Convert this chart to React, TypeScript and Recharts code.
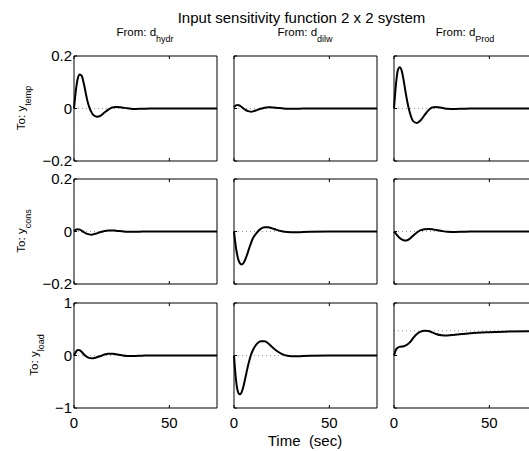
import { LineChart, Line, XAxis, YAxis, ReferenceLine } from 'recharts';

// sample times (sec)
const time = [0, 1, 2, 3, 4, 5, 6, 7, 8, 9, 10, 12, 14, 16, 18, 20, 22, 25, 28, 32, 36, 40, 50, 60, 75];

// responses, one array per input -> output pair
const hydrTemp = [0, 0.07, 0.115, 0.13, 0.125, 0.1, 0.065, 0.03, 0.005, -0.012, -0.024, -0.031, -0.027, -0.015, -0.004, 0.004, 0.006, 0.004, 0.001, -0.002, -0.001, 0, 0, 0, 0];
const dilwTemp = [0.005, 0.012, 0.013, 0.011, 0.006, 0, -0.005, -0.009, -0.011, -0.012, -0.011, -0.006, -0.001, 0.003, 0.005, 0.004, 0.003, 0.001, -0.001, -0.001, 0, 0, 0, 0, 0];
const prodTemp = [0, 0.09, 0.145, 0.157, 0.145, 0.11, 0.065, 0.025, -0.008, -0.032, -0.048, -0.055, -0.045, -0.025, -0.007, 0.004, 0.006, 0.003, -0.001, -0.002, -0.001, 0, 0, 0, 0];
const hydrCons = [0, 0.007, 0.009, 0.007, 0.003, -0.002, -0.006, -0.009, -0.011, -0.012, -0.011, -0.007, -0.002, 0.002, 0.004, 0.004, 0.003, 0.001, -0.001, -0.001, 0, 0, 0, 0, 0];
const dilwCons = [0, -0.06, -0.1, -0.12, -0.126, -0.12, -0.105, -0.085, -0.063, -0.042, -0.025, -0.004, 0.01, 0.016, 0.016, 0.012, 0.007, 0.001, -0.002, -0.003, -0.002, -0.001, 0, 0, 0];
const prodCons = [0, -0.008, -0.017, -0.025, -0.03, -0.033, -0.034, -0.033, -0.029, -0.023, -0.016, -0.004, 0.005, 0.009, 0.01, 0.009, 0.006, 0.002, -0.001, -0.002, -0.001, 0, 0, 0, 0];
const hydrLoad = [0, 0.07, 0.105, 0.1, 0.07, 0.03, -0.005, -0.03, -0.045, -0.05, -0.05, -0.035, -0.01, 0.02, 0.035, 0.035, 0.025, 0.005, -0.008, -0.008, -0.003, 0, 0, 0, 0];
const dilwLoad = [0, -0.45, -0.68, -0.74, -0.7, -0.58, -0.42, -0.25, -0.1, 0.02, 0.11, 0.22, 0.27, 0.27, 0.23, 0.16, 0.1, 0.03, -0.005, -0.015, -0.01, -0.005, 0, 0, 0];
const prodLoad = [0, 0.11, 0.15, 0.165, 0.17, 0.175, 0.19, 0.21, 0.24, 0.28, 0.33, 0.41, 0.455, 0.47, 0.465, 0.44, 0.41, 0.385, 0.38, 0.395, 0.41, 0.425, 0.445, 0.455, 0.465];

const inputNames = ['hydr', 'dilw', 'Prod'];
const outputNames = ['temp', 'cons', 'load'];
const responses = [
  [hydrTemp, dilwTemp, prodTemp],
  [hydrCons, dilwCons, prodCons],
  [hydrLoad, dilwLoad, prodLoad],
];
const steadyState = [
  [0, 0, 0],
  [0, 0, 0],
  [0, 0, 0.47],
];

const xTicks = [0, 50];
const smallYTicks = [-0.2, 0, 0.2];
const loadYTicks = [-1, 0, 1];
const yTicksByRow = [smallYTicks, smallYTicks, loadYTicks];

const FONT = '"Liberation Sans", Arial, Helvetica, sans-serif';
// half-pixel offsets keep the 1px frame lines crisp
const colLeft = [73.5, 233.5, 393.5];
const rowTop = [55.5, 178.5, 302.5];
const PW = 143;
const PH = 105;
const LEFT_W = 50;
const TOP_H = 12;
const RIGHT_W = 5;
const BOTTOM_H = 30;

const fmt = (v: number) => (v < 0 ? '\u2212' + Math.abs(v) : String(v));
const blank = () => '';
const line = { stroke: '#000', strokeWidth: 1 };
const tickStyle = { fontSize: 15, fill: '#000', fontFamily: FONT };

function Panel({ row, col }: { row: number; col: number }) {
  const values = responses[row][col];
  const data = time.map((t, i) => ({ t, v: values[i] }));
  const ticks = yTicksByRow[row];
  const domain = [ticks[0], ticks[ticks.length - 1]];
  return (
    <div style={{ position: 'absolute', left: colLeft[col] - LEFT_W, top: rowTop[row] - TOP_H }}>
      <LineChart
        width={LEFT_W + PW + RIGHT_W}
        height={TOP_H + PH + BOTTOM_H}
        data={data}
        margin={{ top: 0, right: 0, bottom: 0, left: 0 }}
      >
        <XAxis
          xAxisId="b"
          dataKey="t"
          type="number"
          domain={[0, 75]}
          ticks={xTicks}
          interval={0}
          height={BOTTOM_H}
          tickSize={-3}
          tickMargin={12}
          axisLine={line}
          tickLine={line}
          tick={tickStyle}
          tickFormatter={row === 2 ? fmt : blank}
        />
        <XAxis
          xAxisId="t"
          orientation="top"
          dataKey="t"
          type="number"
          domain={[0, 75]}
          ticks={xTicks}
          interval={0}
          height={TOP_H}
          tickSize={-3}
          axisLine={line}
          tickLine={line}
          tick={tickStyle}
          tickFormatter={blank}
        />
        <YAxis
          yAxisId="l"
          type="number"
          domain={domain}
          ticks={ticks}
          interval={0}
          width={LEFT_W}
          tickSize={-3}
          tickMargin={5}
          axisLine={line}
          tickLine={line}
          tick={tickStyle}
          tickFormatter={col === 0 ? fmt : blank}
        />
        <YAxis
          yAxisId="r"
          orientation="right"
          type="number"
          domain={domain}
          ticks={ticks}
          interval={0}
          width={RIGHT_W}
          tickSize={-3}
          axisLine={line}
          tickLine={line}
          tick={tickStyle}
          tickFormatter={blank}
        />
        <ReferenceLine
          xAxisId="b"
          yAxisId="l"
          y={steadyState[row][col]}
          stroke="#999"
          strokeDasharray="1 3"
        />
        <Line
          xAxisId="b"
          yAxisId="l"
          dataKey="v"
          type="monotone"
          stroke="#000"
          strokeWidth={2}
          dot={false}
          isAnimationActive={false}
        />
      </LineChart>
    </div>
  );
}

const sub = { fontSize: 9, position: 'relative' as const, top: 6 };

export default function App() {
  return (
    <div
      style={{
        position: 'absolute',
        left: 0,
        top: 0,
        width: 529,
        height: 451,
        overflow: 'hidden',
        background: '#fff',
        fontFamily: FONT,
        color: '#000',
      }}
    >
      <div style={{ position: 'absolute', left: 0, width: 603, top: 10, fontSize: 15, lineHeight: '15px', textAlign: 'center', whiteSpace: 'nowrap' }}>
        Input sensitivity function 2 x 2 system
      </div>
      {inputNames.map((name, c) => (
        <div
          key={name}
          style={{ position: 'absolute', left: colLeft[c] + PW / 2 - 60, width: 120, top: 26.5, fontSize: 11.5, lineHeight: '11px', textAlign: 'center', whiteSpace: 'nowrap' }}
        >
          From: d<span style={sub}>{name}</span>
        </div>
      ))}
      {outputNames.map((name, r) => (
        <div
          key={name}
          style={{
            position: 'absolute',
            left: (r === 2 ? 34 : 21.4) - 60,
            top: rowTop[r] + PH / 2 - 7,
            width: 120,
            height: 14,
            fontSize: 11.5,
            lineHeight: '14px',
            textAlign: 'center',
            whiteSpace: 'nowrap',
            transform: 'rotate(-90deg)',
          }}
        >
          To: y<span style={sub}>{name}</span>
        </div>
      ))}
      {[0, 1, 2].map((r) => [0, 1, 2].map((c) => <Panel key={`${r}-${c}`} row={r} col={c} />))}
      <div style={{ position: 'absolute', left: colLeft[1] + PW / 2 - 60, width: 120, top: 433, fontSize: 15, lineHeight: '15px', textAlign: 'center', whiteSpace: 'pre' }}>
        {'Time  (sec)'}
      </div>
    </div>
  );
}
